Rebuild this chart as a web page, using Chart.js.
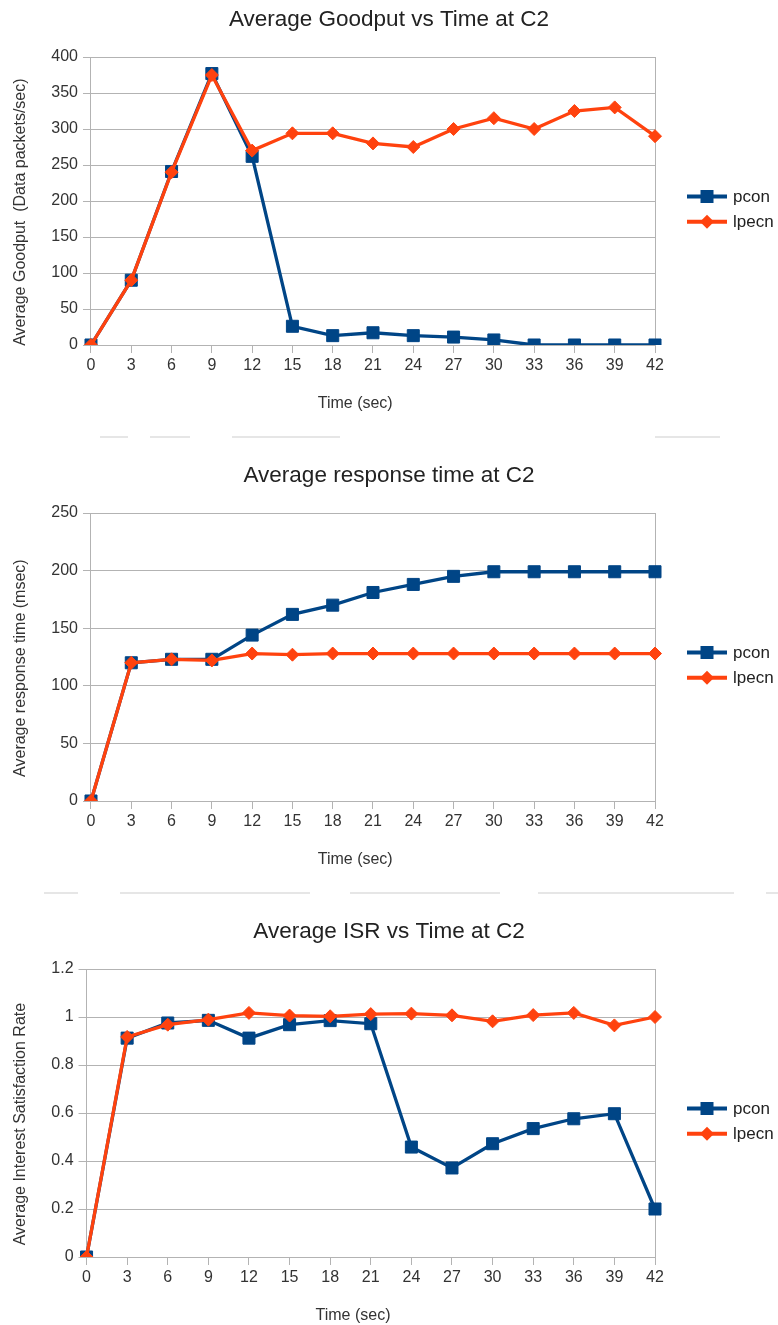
<!DOCTYPE html>
<html>
<head>
<meta charset="utf-8">
<script src="https://cdn.jsdelivr.net/npm/chart.js@4.4.1/dist/chart.umd.min.js"></script>
<style>
  body { margin: 0; background: #fff; width: 778px; height: 1325px; overflow: hidden; position: relative; }
  canvas { position: absolute; left: 0; }
  .sep { position: absolute; height: 2px; background: #e6e6e6; }
</style>
</head>
<body>
<canvas id="goodputChart" width="778" height="416" style="top:0px"></canvas>
<canvas id="responseChart" width="778" height="416" style="top:456px"></canvas>
<canvas id="isrChart" width="778" height="416" style="top:912px"></canvas>

<div class="sep" style="top:436px;left:100px;width:28px"></div>
<div class="sep" style="top:436px;left:150px;width:40px"></div>
<div class="sep" style="top:436px;left:232px;width:108px"></div>
<div class="sep" style="top:436px;left:655px;width:65px"></div>
<div class="sep" style="top:892px;left:44px;width:34px"></div>
<div class="sep" style="top:892px;left:120px;width:190px"></div>
<div class="sep" style="top:892px;left:350px;width:150px"></div>
<div class="sep" style="top:892px;left:538px;width:196px"></div>
<div class="sep" style="top:892px;left:766px;width:12px"></div>

<script>
// x axis: time in seconds
const timeLabels = ['0', '3', '6', '9', '12', '15', '18', '21', '24', '27', '30', '33', '36', '39', '42'];

// Average goodput (data packets/sec)
const goodputPcon = [0, 90, 241, 377, 262, 26, 13, 17, 13, 11, 7, 0, 0, 0, 0];
const goodputLpecn = [0, 90, 240, 375, 270, 294, 294, 280, 275, 300, 315, 300, 325, 330, 290];

// Average response time (msec)
const responsePcon = [0, 120, 123, 123, 144, 162, 170, 181, 188, 195, 199, 199, 199, 199, 199];
const responseLpecn = [0, 120, 123, 122, 128, 127, 128, 128, 128, 128, 128, 128, 128, 128, 128];

// Average interest satisfaction rate
const isrPcon = [0, 0.912, 0.975, 0.986, 0.912, 0.968, 0.985, 0.972, 0.458, 0.371, 0.472, 0.535, 0.576, 0.597, 0.2];
const isrLpecn = [0, 0.917, 0.968, 0.989, 1.017, 1.006, 1.003, 1.012, 1.014, 1.007, 0.982, 1.008, 1.017, 0.965, 1.0];

const seriesNames = ['pcon', 'lpecn'];
const seriesColors = ['#004586', '#ff420e'];

const gridColor = '#b3b3b3';
const textColor = '#333333';
const fontFamily = "'Liberation Sans', Arial, sans-serif";

// legend drawn as line + marker, like the office chart
const lineLegend = {
    id: 'lineLegend',
    afterDraw(chart) {
        const ctx = chart.ctx;
        const area = chart.chartArea;
        const x0 = area.right + 32;
        const mid = (area.top + area.bottom) / 2;
        ctx.save();
        seriesNames.forEach((name, i) => {
            const y = mid - 4.5 + i * 25.3;
            ctx.strokeStyle = seriesColors[i];
            ctx.fillStyle = seriesColors[i];
            ctx.lineWidth = 4;
            ctx.beginPath();
            ctx.moveTo(x0, y);
            ctx.lineTo(x0 + 40, y);
            ctx.stroke();
            const cx = x0 + 20;
            if (i === 0) {
                ctx.fillRect(cx - 6.5, y - 6.5, 13, 13);
            } else {
                ctx.beginPath();
                ctx.moveTo(cx, y - 7);
                ctx.lineTo(cx + 7, y);
                ctx.lineTo(cx, y + 7);
                ctx.lineTo(cx - 7, y);
                ctx.closePath();
                ctx.fill();
            }
            ctx.fillStyle = '#222';
            ctx.font = '17px ' + fontFamily;
            ctx.textBaseline = 'middle';
            ctx.textAlign = 'left';
            ctx.fillText(name, x0 + 46, y + 1);
        });
        ctx.restore();
    }
};

// trailing spaces nudge the centred axis titles a little, as in the original
const pad = n => '\u0020'.repeat(n);

function makeChart(canvasId, titleText, yTitle, yMax, yStep, pconData, lpecnData) {
    const ctx = document.getElementById(canvasId).getContext('2d');
    const lastIndex = timeLabels.length - 1;
    return new Chart(ctx, {
        type: 'line',
        data: {
            labels: timeLabels,
            datasets: [{
                label: seriesNames[0],
                data: pconData,
                borderColor: seriesColors[0],
                backgroundColor: seriesColors[0],
                borderWidth: 3.3,
                pointStyle: 'rect',
                pointRadius: 8.5,
                pointBorderWidth: 1,
                tension: 0,
                order: 2
            }, {
                label: seriesNames[1],
                data: lpecnData,
                borderColor: seriesColors[1],
                backgroundColor: seriesColors[1],
                borderWidth: 3.3,
                pointStyle: 'rectRot',
                pointRadius: 6.5,
                pointBorderWidth: 1,
                tension: 0,
                order: 1
            }]
        },
        options: {
            responsive: false,
            animation: false,
            layout: { padding: 0 },
            plugins: {
                legend: { display: false },
                tooltip: { enabled: false },
                title: {
                    display: true,
                    text: titleText,
                    color: '#222',
                    font: { family: fontFamily, size: 22.5, weight: 'normal' },
                    padding: { top: 6.5, bottom: 23.5 }
                }
            },
            scales: {
                x: {
                    offset: false,
                    grid: {
                        color: c => (c.index === lastIndex ? gridColor : 'rgba(0,0,0,0)'),
                        tickColor: gridColor,
                        tickLength: 8,
                        lineWidth: 1
                    },
                    border: { color: gridColor },
                    ticks: {
                        color: textColor,
                        font: { family: fontFamily, size: 16 },
                        padding: 3,
                        maxRotation: 0,
                        autoSkip: false
                    },
                    title: {
                        display: true,
                        text: 'Time (sec)' + pad(8),
                        color: textColor,
                        font: { family: fontFamily, size: 16 },
                        padding: { top: 15.7, bottom: 2.9 }
                    }
                },
                y: {
                    min: 0,
                    max: yMax,
                    grid: { color: gridColor, tickColor: gridColor, tickLength: 8 },
                    border: { color: gridColor },
                    ticks: {
                        stepSize: yStep,
                        color: textColor,
                        font: { family: fontFamily, size: 16 },
                        padding: 5,
                        callback: v => String(Number(v.toFixed(2)))
                    },
                    title: {
                        display: true,
                        text: yTitle + pad(5),
                        color: textColor,
                        font: { family: fontFamily, size: 16 },
                        padding: { top: 10.9, bottom: 16.2 }
                    }
                },
                // empty right-hand axis keeps room for the legend
                legendSpace: {
                    position: 'right',
                    display: true,
                    grid: { display: false },
                    border: { display: false },
                    ticks: { display: false },
                    afterFit: s => { s.width = 123; }
                }
            }
        },
        plugins: [lineLegend]
    });
}

makeChart('goodputChart', 'Average Goodput vs Time at C2', 'Average Goodput  (Data packets/sec)', 400, 50, goodputPcon, goodputLpecn);
makeChart('responseChart', 'Average response time at C2', 'Average response time (msec)', 250, 50, responsePcon, responseLpecn);
makeChart('isrChart', 'Average ISR vs Time at C2', 'Average Interest Satisfaction Rate', 1.2, 0.2, isrPcon, isrLpecn);
</script>
</body>
</html>
